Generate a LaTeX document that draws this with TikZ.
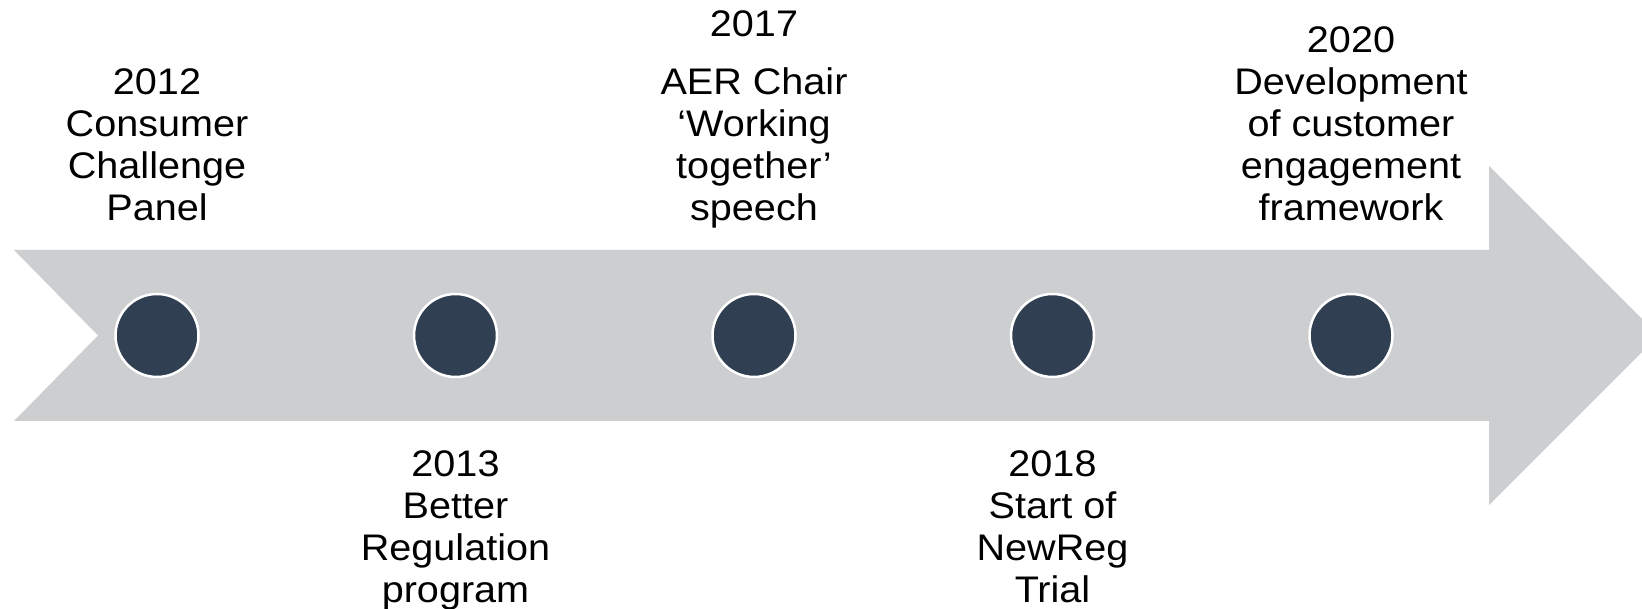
\documentclass[tikz,border=0pt]{standalone}
\usepackage{fontspec}
\setmainfont[FakeStretch=1.07]{Liberation Sans}
\usetikzlibrary{positioning}
\definecolor{bandgray}{HTML}{CDCED0}
\definecolor{dotblue}{HTML}{313F52}

\begin{document}
\begin{tikzpicture}[x=1pt,y=1pt,
  dot/.style={circle,fill=dotblue,draw=white,line width=2.5pt,minimum size=83pt,inner sep=0pt},
  event/.style={align=center,inner sep=0pt,font=\fontsize{37}{42}\selectfont}]
\useasboundingbox (0,0) rectangle (1642,609);
\clip (0,0) rectangle (1642,609);
\fill [bandgray] (14,359) -- (98,273.5) -- (14,188) -- (1489,188) -- (1489,104)
    -- (1658.5,273.5) -- (1489,443) -- (1489,359) -- cycle;
\node [dot] (d2012) at (157,273.5) {};
\path (d2012) ++(298.5,0) node [dot] (d2013) {};
\path (d2013) ++(298.5,0) node [dot] (d2017) {};
\path (d2017) ++(298.5,0) node [dot] (d2018) {};
\path (d2018) ++(298.5,0) node [dot] (d2020) {};
\path (d2012) ++(0,267) node [event,anchor=north] (t2012)
    {2012\\ Consumer\\ Challenge\\ Panel};
\path (d2013) ++(0,-115) node [event,anchor=north] (t2013)
    {2013\\ Better\\ Regulation\\ program};
\path (d2017) ++(0,325) node [event,anchor=north] (t2017)
    {2017\\[16pt] AER Chair\\ ‘Working\\ together’\\ speech};
\path (d2018) ++(0,-115) node [event,anchor=north] (t2018)
    {2018\\ Start of\\ NewReg\\ Trial};
\path (d2020) ++(0,309) node [event,anchor=north] (t2020)
    {2020\\ Development\\ of customer\\ engagement\\ framework};
\end{tikzpicture}
\end{document}
